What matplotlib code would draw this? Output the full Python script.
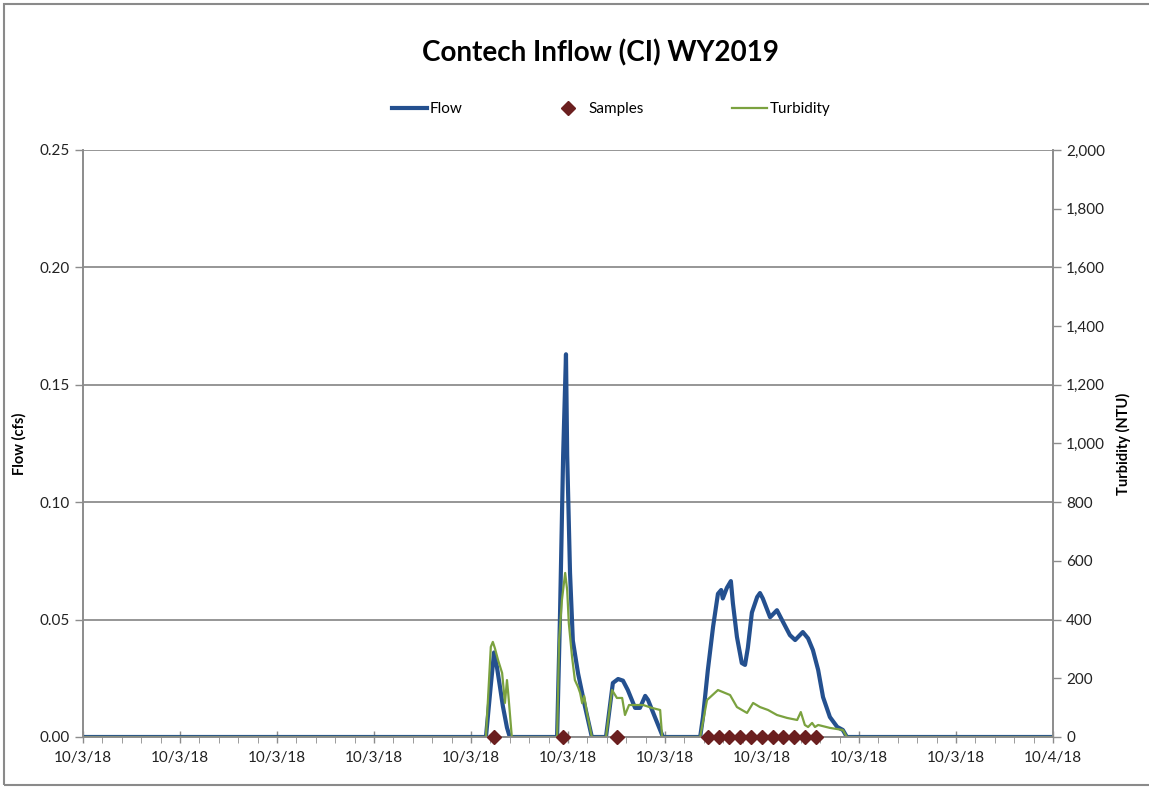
import matplotlib
matplotlib.use('Agg')
import matplotlib.pyplot as plt
from matplotlib.patches import Rectangle
from matplotlib.ticker import MultipleLocator, FuncFormatter

plt.rcParams['font.family'] = ['Lato', 'DejaVu Sans']

# time in hours from 10/3/18 00:00
flow_t = [0.00, 9.97, 10.09, 10.17, 10.24, 10.32, 10.39, 10.49, 10.56,
          11.73, 11.80, 11.88, 11.95, 11.98, 12.05, 12.12, 12.25, 12.42, 12.59,
          12.94, 13.11, 13.24, 13.36, 13.48, 13.66, 13.78, 13.91, 13.98, 14.15, 14.35,
          15.27, 15.34, 15.46, 15.59, 15.71, 15.79, 15.83, 15.93, 16.03, 16.08,
          16.18, 16.30, 16.38, 16.45, 16.55, 16.68, 16.75, 16.82, 17.00, 17.17,
          17.32, 17.49, 17.62, 17.81, 17.94, 18.06, 18.19, 18.31, 18.48, 18.66,
          18.80, 18.90, 24.00]
flow_v = [0, 0, 0.022, 0.036, 0.030, 0.021, 0.013, 0.004, 0,
          0, 0.05, 0.12, 0.163, 0.12, 0.07, 0.041, 0.027, 0.013, 0,
          0, 0.023, 0.0247, 0.024, 0.020, 0.0124, 0.0124, 0.0175, 0.0158, 0.0085, 0,
          0, 0.0085, 0.0285, 0.047, 0.061, 0.0626, 0.059, 0.0635, 0.0664, 0.057,
          0.0426, 0.0315, 0.0307, 0.038, 0.053, 0.0596, 0.0613, 0.059, 0.051, 0.054,
          0.049, 0.0434, 0.0413, 0.0447, 0.042, 0.037, 0.0285, 0.017, 0.0085, 0.0043,
          0.003, 0, 0]

turb_t = [0.00, 9.97, 10.09, 10.14, 10.19, 10.27, 10.37, 10.44, 10.49, 10.52, 10.61,
          11.73, 11.78, 11.85, 11.93, 11.98, 12.02, 12.10, 12.17, 12.25, 12.30, 12.35,
          12.40, 12.47, 12.59,
          12.94, 13.09, 13.21, 13.34, 13.41, 13.51, 13.71, 13.86, 14.08, 14.28, 14.33,
          15.27, 15.44, 15.71, 16.01, 16.18, 16.43, 16.58, 16.75, 16.95, 17.17, 17.42,
          17.67, 17.76, 17.86, 17.94, 18.04, 18.11, 18.19, 18.48, 18.80, 18.90, 24.00]
turb_v = [0, 0, 307, 324, 303, 262, 218, 116, 194, 150, 0,
          0, 330, 467, 559, 500, 388, 273, 194, 170, 150, 115,
          140, 82, 0,
          0, 160, 133, 133, 75, 109, 109, 109, 99, 92, 0,
          0, 126, 160, 143, 102, 82, 116, 102, 92, 75, 65,
          58, 85, 41, 34, 48, 34, 41, 31, 24, 0, 0]

sample_t = [10.17, 11.88, 13.21, 15.46, 15.73, 15.99, 16.26, 16.53, 16.79,
            17.06, 17.33, 17.59, 17.86, 18.13]
sample_v = [0] * len(sample_t)

tick_hours = [0, 2.4, 4.8, 7.2, 9.6, 12.0, 14.4, 16.8, 19.2, 21.6, 24.0]
tick_labels = ['10/3/18'] * 10 + ['10/4/18']

blue = '#24508f'
green = '#7ba23f'
maroon = '#6b1f1f'
gray = '#8c8c8c'

fig = plt.figure(figsize=(11.49, 7.87), dpi=100)
fig.patches.append(Rectangle((4 / 1149, 2 / 787), 1.0, 1 - 6 / 787, transform=fig.transFigure,
                             fill=False, edgecolor='#8a8a8a', linewidth=1.5))
ax = fig.add_axes([83 / 1149, 1 - 737 / 787, 970 / 1149, 587 / 787])
ax2 = ax.twinx()

ax.plot(flow_t, flow_v, color=blue, linewidth=3.0, label='Flow')
ax2.plot(turb_t, turb_v, color=green, linewidth=1.6, label='Turbidity')
ax2.plot(sample_t, sample_v, linestyle='none', marker='D', markersize=7,
         color=maroon, label='Samples', clip_on=False, zorder=5)

ax.set_xlim(0, 24)
ax.set_ylim(0, 0.25)
ax2.set_ylim(0, 2000)

ax.set_xticks(tick_hours)
ax.set_xticklabels(tick_labels)
ax.xaxis.set_minor_locator(MultipleLocator(0.48))
ax.yaxis.set_major_locator(MultipleLocator(0.05))
ax.yaxis.set_major_formatter(FuncFormatter(lambda v, p: f'{v:.2f}'))
ax2.yaxis.set_major_locator(MultipleLocator(200))
ax2.yaxis.set_major_formatter(FuncFormatter(lambda v, p: f'{v:,.0f}'))

ax.grid(axis='y', color='#969696', linewidth=1.4)
ax.set_axisbelow(True)

for a in (ax, ax2):
    a.spines['top'].set_visible(False)
    for s in ('left', 'right', 'bottom'):
        a.spines[s].set_color(gray)
        a.spines[s].set_linewidth(1.2)
    a.tick_params(colors=gray, labelcolor='#222222', labelsize=11, width=1)
ax.tick_params(axis='x', which='major', direction='inout', length=8, pad=6)
ax.tick_params(axis='x', which='minor', direction='out', length=4, color=gray)
ax.tick_params(axis='y', direction='out', length=6)
ax2.tick_params(axis='y', direction='out', length=6)

ax.set_ylabel('Flow (cfs)', fontsize=10.5, fontweight='bold', labelpad=9)
ax2.set_ylabel('Turbidity (NTU)', fontsize=10.5, fontweight='bold', labelpad=8)

fig.text(0.523, 1 - 53 / 787, 'Contech Inflow (CI) WY2019', ha='center', va='center',
         fontsize=20, fontweight='bold')

handles = [ax.get_lines()[0], ax2.get_lines()[1], ax2.get_lines()[0]]
fig.legend(handles, [h.get_label() for h in handles], loc='center',
           bbox_to_anchor=(611 / 1149, 1 - 109 / 787), ncol=3, frameon=False,
           fontsize=11, handlelength=2.3, handletextpad=0.15, columnspacing=5.8)

fig.savefig('out.png', dpi=100)
